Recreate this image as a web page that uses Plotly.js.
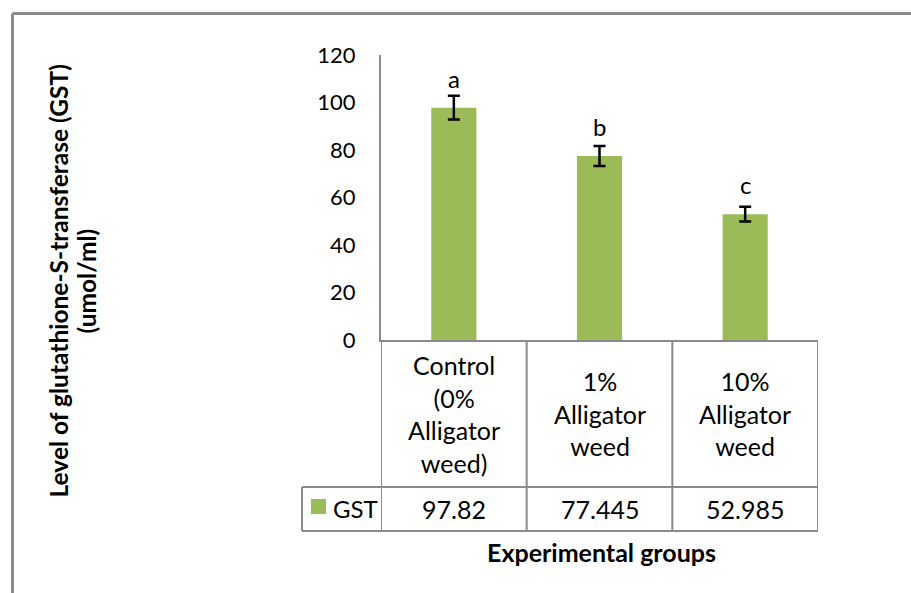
<!DOCTYPE html>
<html>
<head>
<meta charset="utf-8">
<script src="https://cdn.plot.ly/plotly-3.0.1.min.js"></script>
<style>
  html, body { margin: 0; padding: 0; background: #ffffff; }
  #chart { width: 911px; height: 593px; }
</style>
</head>
<body>
<div id="chart"></div>
<script>
// ---- data ----
const categories = ["Control (0% Alligator weed)", "1% Alligator weed", "10% Alligator weed"];
const categoryLabels = ["Control<br>(0%<br>Alligator<br>weed)", "1%<br>Alligator<br>weed", "10%<br>Alligator<br>weed"];
const seriesName = "GST";
const gstValues = [97.82, 77.445, 52.985];
const gstErrors = [5.0, 4.2, 3.1];
const significanceLetters = ["a", "b", "c"];
const yTickValues = [0, 20, 40, 60, 80, 100, 120];
const yTitleLines = ["Level of glutathione-S-transferase (GST)", "(umol/ml)"];
const xTitle = "Experimental groups";

// ---- geometry helpers (pixel -> paper) ----
const W = 911, H = 593;
const M = { l: 381, r: 93, t: 55, b: 253 };
const plotW = W - M.l - M.r, plotH = H - M.t - M.b;
const px = p => (p - M.l) / plotW;
const py = p => (H - M.b - p) / plotH;

const FONT = "Lato, 'Open Sans', Arial, sans-serif";
const GRID = "#8a8a8a";
const GREEN = "#9BBB59";

const trace = {
  type: "bar",
  name: seriesName,
  x: categories,
  y: gstValues,
  width: 0.31,
  marker: { color: GREEN },
  error_y: { type: "data", array: gstErrors, visible: true, color: "#000000", thickness: 2.5, width: 6 },
  showlegend: false,
  hoverinfo: "x+y"
};

const rowTop = py(340), row1Bottom = py(487), row2Bottom = py(531);
const legendLeft = px(302);

const shapes = [];
// table horizontal lines
shapes.push({ type: "line", xref: "paper", yref: "paper", x0: legendLeft, x1: 1, y0: row1Bottom, y1: row1Bottom, line: { color: GRID, width: 2 } });
shapes.push({ type: "line", xref: "paper", yref: "paper", x0: legendLeft, x1: 1, y0: row2Bottom, y1: row2Bottom, line: { color: GRID, width: 2 } });
// legend cell left edge
shapes.push({ type: "line", xref: "paper", yref: "paper", x0: legendLeft, x1: legendLeft, y0: row1Bottom, y1: row2Bottom, line: { color: GRID, width: 2 } });
// category boundaries (through the x scale)
[-0.5, 0.5, 1.5, 2.5].forEach(b => {
  shapes.push({ type: "line", xref: "x", yref: "paper", x0: b, x1: b, y0: rowTop, y1: row2Bottom, line: { color: GRID, width: 2 } });
});
// legend swatch
shapes.push({ type: "rect", xref: "paper", yref: "paper", x0: px(311), x1: px(326), y0: py(514), y1: py(499), fillcolor: GREEN, line: { width: 0 } });
// outer frame (top + left)
shapes.push({ type: "line", xref: "paper", yref: "paper", x0: px(12.5), x1: px(W), y0: py(13.5), y1: py(13.5), line: { color: GRID, width: 3 } });
shapes.push({ type: "line", xref: "paper", yref: "paper", x0: px(12.5), x1: px(12.5), y0: py(13.5), y1: py(H), line: { color: GRID, width: 3 } });

const annotations = [];
// significance letters above bars
categories.forEach((c, i) => {
  annotations.push({ x: c, y: gstValues[i], xref: "x", yref: "y", text: significanceLetters[i], showarrow: false,
    yanchor: "bottom", yshift: 13, font: { family: FONT, size: 24, color: "#000" } });
});
// table row 1: category labels
categories.forEach((c, i) => {
  annotations.push({ x: c, y: py(413.5), xref: "x", yref: "paper", text: categoryLabels[i], showarrow: false,
    yanchor: "middle", align: "center", font: { family: FONT, size: 25, color: "#000" } });
});
// table row 2: values
categories.forEach((c, i) => {
  annotations.push({ x: c, y: py(509), xref: "x", yref: "paper", text: String(gstValues[i]), showarrow: false,
    yanchor: "middle", font: { family: FONT, size: 25, color: "#000" } });
});
// legend label
annotations.push({ x: px(331), y: py(508), xref: "paper", yref: "paper", text: seriesName, showarrow: false,
  xanchor: "left", yanchor: "middle", font: { family: FONT, size: 24, color: "#000" } });
// y title (two lines placed separately for tight line spacing)
[58, 86].forEach((cx, i) => {
  annotations.push({ x: px(cx), y: py(281.5), xref: "paper", yref: "paper", text: "<b>" + yTitleLines[i] + "</b>",
    showarrow: false, textangle: -90, xanchor: "center", yanchor: "middle", align: "center",
    font: { family: FONT, size: 24.5, color: "#000" } });
});
// x title
annotations.push({ x: px(601.5), y: py(552), xref: "paper", yref: "paper", text: "<b>" + xTitle + "</b>", showarrow: false,
  xanchor: "center", yanchor: "middle", font: { family: FONT, size: 25, color: "#000" } });

const layout = {
  width: W, height: H,
  margin: M,
  paper_bgcolor: "#ffffff", plot_bgcolor: "#ffffff",
  font: { family: FONT, color: "#000" },
  showlegend: false,
  xaxis: {
    type: "category", range: [-0.5, 2.5], showticklabels: false, ticks: "",
    showline: true, linecolor: GRID, linewidth: 2, showgrid: false, zeroline: false, fixedrange: true
  },
  yaxis: {
    range: [0, 120], tickvals: yTickValues, ticktext: yTickValues.map(String), ticks: "",
    showline: true, linecolor: GRID, linewidth: 2, showgrid: false, zeroline: false,
    ticklabelstandoff: 19, tickfont: { family: FONT, size: 22, color: "#000" }, fixedrange: true
  },
  shapes: shapes,
  annotations: annotations
};

Plotly.newPlot("chart", [trace], layout, { displayModeBar: false, staticPlot: true });
</script>
</body>
</html>
